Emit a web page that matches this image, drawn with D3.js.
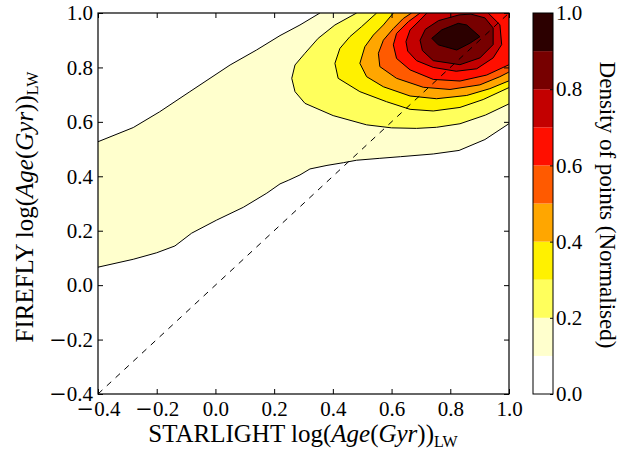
<!DOCTYPE html>
<html><head><meta charset="utf-8">
<script src="https://cdn.jsdelivr.net/npm/d3@7"></script>
<style>
body{margin:0;background:#fff}
text{font-family:"Liberation Serif","Times New Roman",serif;fill:#000}
</style>
</head><body>
<svg id="c" width="641" height="452"></svg>
<script>
// ---- data ----
const xTicks = [-0.4, -0.2, 0.0, 0.2, 0.4, 0.6, 0.8, 1.0];
const yTicks = [-0.4, -0.2, 0.0, 0.2, 0.4, 0.6, 0.8, 1.0];
const cbTicks = [0.0, 0.2, 0.4, 0.6, 0.8, 1.0];
const levels = [0.0, 0.1, 0.2, 0.3, 0.4, 0.5, 0.6, 0.7, 0.8, 0.9, 1.0];
const bandColors = ["#ffffff", "#ffffcd", "#ffff5c", "#fff100", "#ffa600",
                    "#ff5a00", "#ff0f00", "#c30000", "#770000", "#2c0000"];

// contour boundaries [STARLIGHT, FIREFLY]; regions inside are above the level
const contour01 = [[-0.45,0.50],[-0.4,0.527],[-0.28,0.579],[-0.19,0.637],[-0.087,0.711],[0.05,0.809],
  [0.14,0.864],[0.22,0.917],[0.288,0.956],[0.356,1.0],[0.40,1.05],[1.05,1.05],[1.05,0.62],
  [0.998,0.592],[0.918,0.535],[0.83,0.495],[0.742,0.482],[0.63,0.472],[0.56,0.466],[0.481,0.459],
  [0.436,0.450],[0.38,0.440],[0.322,0.427],[0.288,0.405],[0.25,0.386],[0.22,0.372],[0.175,0.338],
  [0.095,0.286],[0.004,0.239],[-0.081,0.191],[-0.138,0.144],[-0.2,0.119],[-0.28,0.095],
  [-0.4,0.066],[-0.45,0.058]];
const contour02 = [[0.50,1.05],[0.481,1.0],[0.407,0.956],[0.35,0.907],[0.305,0.852],[0.271,0.809],
  [0.26,0.76],[0.271,0.711],[0.305,0.668],[0.401,0.623],[0.515,0.589],[0.60,0.578],[0.685,0.576],
  [0.753,0.580],[0.833,0.593],[0.92,0.625],[0.998,0.665],[1.05,0.70],[1.05,1.05]];
const contour03 = [[0.57,1.05],[0.549,1.0],[0.498,0.950],[0.458,0.913],[0.424,0.870],[0.407,0.815],
  [0.418,0.760],[0.492,0.711],[0.583,0.674],[0.663,0.646],[0.742,0.640],[0.833,0.653],
  [0.912,0.682],[0.998,0.725],[1.05,0.76],[1.05,1.05]];
const contour04 = [[0.63,1.05],[0.606,1.0],[0.572,0.956],[0.538,0.919],[0.509,0.876],[0.492,0.815],
  [0.515,0.766],[0.572,0.729],[0.663,0.695],[0.753,0.685],[0.856,0.697],[0.935,0.722],
  [0.998,0.750],[1.05,0.78],[1.05,1.05]];
const contour05 = [[0.69,1.05],[0.668,1.0],[0.640,0.980],[0.606,0.943],[0.572,0.900],[0.555,0.852],
  [0.560,0.803],[0.617,0.760],[0.708,0.727],[0.799,0.719],[0.901,0.736],[0.969,0.766],
  [0.998,0.782],[1.05,0.82],[1.05,0.96],[1.03,0.99],[0.99,1.05]];
const contour06 = [[0.72,1.05],[0.697,1.0],[0.657,0.968],[0.617,0.925],[0.606,0.883],[0.617,0.833],
  [0.663,0.791],[0.742,0.756],[0.833,0.750],[0.924,0.772],[0.998,0.809],[1.03,0.83],
  [1.03,0.945],[0.97,1.05]];
const contour07 = [[0.649,0.895],[0.655,0.86],[0.685,0.825],[0.742,0.80],[0.82,0.786],[0.89,0.795],
  [0.946,0.835],[0.975,0.884],[0.969,0.957],[0.929,1.0],[0.90,1.04],[0.75,1.04],[0.72,1.0],
  [0.697,0.974],[0.663,0.938]];
const contour08 = [[0.697,0.900],[0.715,0.94],[0.76,0.972],[0.83,0.993],[0.87,0.996],[0.918,0.982],
  [0.946,0.945],[0.946,0.884],[0.901,0.835],[0.833,0.810],[0.742,0.825],[0.705,0.862]];
const contour09 = [[0.737,0.907],[0.771,0.938],[0.827,0.962],[0.856,0.956],[0.901,0.913],
  [0.867,0.889],[0.822,0.864],[0.759,0.883]];
const contours = [contour01, contour02, contour03, contour04, contour05,
                  contour06, contour07, contour08, contour09];
const oneToOne = [[-0.4,-0.4],[1.0,1.0]];

// ---- layout ----
const svg = d3.select("#c");
const L = 98, T = 13, R = 509, B = 394;
const x = d3.scaleLinear().domain([-0.4, 1.0]).range([L, R]);
const y = d3.scaleLinear().domain([-0.4, 1.0]).range([B, T]);
const fmt = d3.format(".1f");

svg.append("defs").append("clipPath").attr("id","pc")
  .append("rect").attr("x",L).attr("y",T).attr("width",R-L).attr("height",B-T);

const g = svg.append("g").attr("clip-path","url(#pc)");
const line = d3.line().x(d => x(d[0])).y(d => y(d[1]));
contours.forEach((c, i) => {
  g.append("path").attr("d", line(c) + "Z")
    .attr("fill", bandColors[i+1]).attr("stroke", "#000")
    .attr("stroke-width", 1).attr("stroke-linejoin", "round");
});
g.append("path").attr("d", line(oneToOne)).attr("fill","none")
  .attr("stroke","#000").attr("stroke-width",1).attr("stroke-dasharray","6,6");

// axes (ticks inward on all sides)
const tl = 5;
const axB = d3.axisBottom(x).tickValues(xTicks).tickSize(-tl).tickFormat(fmt).tickPadding(7);
const axT = d3.axisTop(x).tickValues(xTicks).tickSize(-tl).tickFormat("");
const axL = d3.axisLeft(y).tickValues(yTicks).tickSize(-tl).tickFormat(fmt).tickPadding(5);
const axR = d3.axisRight(y).tickValues(yTicks).tickSize(-tl).tickFormat("");
function style(sel){
  sel.select(".domain").remove(); sel.selectAll("line").attr("stroke","#000");
  sel.selectAll("text").attr("font-size",21).attr("font-family","Liberation Serif")
    .each(function(d){
      const t = d3.select(this);
      if (t.text() === "") { t.remove(); return; }
      if (d < 0) {
        t.text(null);
        t.append("tspan").attr("font-family","DejaVu Serif").text("\u2212");
        t.append("tspan").text(fmt(Math.abs(d)));
      }
    });
}
svg.append("g").attr("transform",`translate(0,${B})`).call(axB).call(style);
svg.append("g").attr("transform",`translate(0,${T})`).call(axT).call(style);
svg.append("g").attr("transform",`translate(${L},0)`).call(axL).call(style);
svg.append("g").attr("transform",`translate(${R},0)`).call(axR).call(style);
svg.append("rect").attr("x",L).attr("y",T).attr("width",R-L).attr("height",B-T)
  .attr("fill","none").attr("stroke","#000").attr("stroke-width",1.2);

// labels
function axisLabel(sel, prefix){
  sel.append("tspan").text(prefix + " log(");
  sel.append("tspan").attr("font-style","italic").text("Age");
  sel.append("tspan").text("(");
  sel.append("tspan").attr("font-style","italic").text("Gyr");
  sel.append("tspan").text("))");
  sel.append("tspan").attr("font-size",16).attr("dy",5).text("LW");
}
const xl = svg.append("text").attr("x",303).attr("y",442).attr("text-anchor","middle").attr("font-size",25);
axisLabel(xl, "STARLIGHT");
const yl = svg.append("text").attr("transform","translate(33,207) rotate(-90)")
  .attr("text-anchor","middle").attr("font-size",25);
axisLabel(yl, "FIREFLY");

// colorbar
const cbL = 533, cbR = 553;
const cy = d3.scaleLinear().domain([0,1]).range([B, T]);
const cb = svg.append("g");
cb.selectAll("rect.band").data(d3.range(levels.length-1)).join("rect").attr("class","band")
  .attr("x",cbL).attr("width",cbR-cbL)
  .attr("y",i => cy(levels[i+1])).attr("height",i => cy(levels[i]) - cy(levels[i+1]))
  .attr("fill",i => bandColors[i]);
cb.append("rect").attr("x",cbL).attr("y",T).attr("width",cbR-cbL).attr("height",B-T)
  .attr("fill","none").attr("stroke","#000").attr("stroke-width",1);
const axC = d3.axisRight(cy).tickValues(cbTicks).tickSize(-3).tickFormat(fmt).tickPadding(3);
svg.append("g").attr("transform",`translate(${cbR},0)`).call(axC).call(style);

svg.append("text").attr("transform","translate(600,205) rotate(90)")
  .attr("text-anchor","middle").attr("font-size",23).text("Density of points (Normalised)");
</script>
</body></html>
